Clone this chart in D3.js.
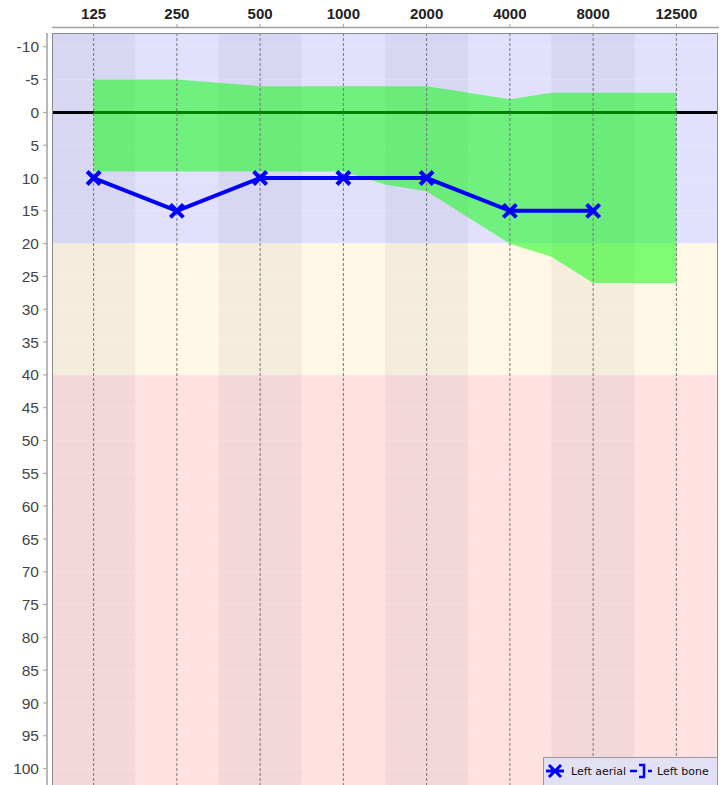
<!DOCTYPE html>
<html>
<head>
<meta charset="utf-8">
<script src="https://cdn.jsdelivr.net/npm/d3@7"></script>
<style>
  body { margin: 0; background: #fff; }
  svg { display: block; }
</style>
</head>
<body>
<svg id="chart" width="728" height="785"></svg>
<script>
// Frequencies (Hz) shown on the top axis
var FREQ_LABELS = ["125", "250", "500", "1000", "2000", "4000", "8000", "12500"];
var FREQS = [125, 250, 500, 1000, 2000, 4000, 8000, 12500];

// dB tick labels on the left axis
var DB_TICKS = [-10, -5, 0, 5, 10, 15, 20, 25, 30, 35, 40, 45, 50, 55, 60, 65, 70, 75, 80, 85, 90, 95, 100];

// Hearing zones (upper limit in dB) and their colours
var ZONE_LIMITS = [20, 40, 200];
var ZONE_COLORS = ["#e1e1fe", "#fff8e6", "#ffe1e2"];

// Normal-range band (green)
var BAND_FREQS = [125, 250, 500, 1000, 1500, 2000, 4000, 6000, 8000, 12500];
var BAND_TOP = [-5, -5, -4, -4, -4, -4, -2, -3, -3, -3];
var BAND_BOTTOM = [9, 9, 9, 9, 11, 12, 20, 22, 26, 26];

// Left aerial series
var AERIAL_FREQS = [125, 250, 500, 1000, 2000, 4000, 8000];
var AERIAL_DB = [10, 15, 10, 10, 10, 15, 15];

var PLOT_LEFT = 52, PLOT_RIGHT = 718, PLOT_TOP = 33, PLOT_BOTTOM = 790;
var SERIES_COLOR = "#0000ff";

var svg = d3.select("#chart");

var xPoint = d3.scalePoint()
    .domain(FREQ_LABELS)
    .range([PLOT_LEFT, PLOT_RIGHT])
    .padding(0.5);
var step = xPoint.step();

// piecewise-linear frequency scale through the category positions
var xScale = d3.scaleLinear()
    .domain(FREQS)
    .range(FREQ_LABELS.map(d => xPoint(d)));

var yScale = d3.scaleLinear()
    .domain([-12.1, 102.5])
    .range([PLOT_TOP, 785]);

var clip = svg.append("clipPath").attr("id", "plot-clip")
    .append("rect")
    .attr("x", PLOT_LEFT).attr("y", PLOT_TOP)
    .attr("width", PLOT_RIGHT - PLOT_LEFT).attr("height", PLOT_BOTTOM - PLOT_TOP);

var plot = svg.append("g").attr("clip-path", "url(#plot-clip)");

// zone backgrounds
var prev = yScale.domain()[0];
for (var z = 0; z < ZONE_LIMITS.length; z++) {
    var y0 = yScale(prev), y1 = Math.min(yScale(ZONE_LIMITS[z]), PLOT_BOTTOM);
    plot.append("rect")
        .attr("x", PLOT_LEFT).attr("y", y0)
        .attr("width", PLOT_RIGHT - PLOT_LEFT).attr("height", y1 - y0)
        .attr("fill", ZONE_COLORS[z]);
    prev = ZONE_LIMITS[z];
}

// alternating darker column stripes
plot.selectAll(".stripe")
    .data(FREQ_LABELS.filter((d, i) => i % 2 == 0))
    .enter()
    .append("rect")
    .attr("class", "stripe")
    .attr("x", d => xPoint(d) - step / 2)
    .attr("y", PLOT_TOP)
    .attr("width", step)
    .attr("height", PLOT_BOTTOM - PLOT_TOP)
    .attr("fill", "#000")
    .attr("opacity", 0.045);

// faint horizontal gridlines
plot.selectAll(".hgrid")
    .data(DB_TICKS)
    .enter()
    .append("line")
    .attr("class", "hgrid")
    .attr("x1", PLOT_LEFT).attr("x2", PLOT_RIGHT)
    .attr("y1", d => yScale(d)).attr("y2", d => yScale(d))
    .attr("stroke", "#fff")
    .attr("stroke-opacity", 0.35)
    .attr("stroke-dasharray", "2,2");

// zero line
plot.append("line")
    .attr("x1", PLOT_LEFT).attr("x2", PLOT_RIGHT)
    .attr("y1", yScale(0)).attr("y2", yScale(0))
    .attr("stroke", "#000")
    .attr("stroke-width", 3);

// normal band
var bandData = BAND_FREQS.map((f, i) => ({ f: f, top: BAND_TOP[i], bottom: BAND_BOTTOM[i] }));
var area = d3.area()
    .x(d => xScale(d.f))
    .y0(d => yScale(d.bottom))
    .y1(d => yScale(d.top));
plot.append("path")
    .datum(bandData)
    .attr("d", area)
    .attr("fill", "rgb(0,255,0)")
    .attr("fill-opacity", 0.5);

// vertical dashed gridlines
plot.selectAll(".vgrid")
    .data(FREQ_LABELS)
    .enter()
    .append("line")
    .attr("class", "vgrid")
    .attr("x1", d => xPoint(d)).attr("x2", d => xPoint(d))
    .attr("y1", PLOT_TOP).attr("y2", PLOT_BOTTOM)
    .attr("stroke", "#777")
    .attr("stroke-width", 1)
    .attr("stroke-dasharray", "3,2");

// aerial series line
var aerialData = AERIAL_FREQS.map((f, i) => ({ f: f, db: AERIAL_DB[i] }));
plot.append("path")
    .datum(aerialData)
    .attr("d", d3.line().x(d => xScale(d.f)).y(d => yScale(d.db)))
    .attr("fill", "none")
    .attr("stroke", SERIES_COLOR)
    .attr("stroke-width", 4);

var MK = 6.5;
var markers = plot.selectAll(".marker")
    .data(aerialData)
    .enter()
    .append("path")
    .attr("class", "marker")
    .attr("d", d => {
        var cx = xScale(d.f), cy = yScale(d.db);
        return "M" + (cx - MK) + "," + (cy - MK) + "L" + (cx + MK) + "," + (cy + MK) +
               "M" + (cx - MK) + "," + (cy + MK) + "L" + (cx + MK) + "," + (cy - MK);
    })
    .attr("stroke", SERIES_COLOR)
    .attr("stroke-width", 4)
    .attr("fill", "none");

// plot border
svg.append("rect")
    .attr("x", PLOT_LEFT + 0.5).attr("y", PLOT_TOP + 0.5)
    .attr("width", PLOT_RIGHT - PLOT_LEFT - 1).attr("height", PLOT_BOTTOM - PLOT_TOP)
    .attr("fill", "none")
    .attr("stroke", "#8a8a8a")
    .attr("stroke-width", 1);

// top axis
var topAxis = svg.append("g");
topAxis.append("line")
    .attr("x1", PLOT_LEFT).attr("x2", PLOT_RIGHT + 1)
    .attr("y1", 27.5).attr("y2", 27.5)
    .attr("stroke", "#a0a0a0").attr("stroke-width", 1.5);
topAxis.selectAll(".xtick")
    .data(FREQ_LABELS)
    .enter()
    .append("line")
    .attr("x1", d => xPoint(d)).attr("x2", d => xPoint(d))
    .attr("y1", 24).attr("y2", 27.5)
    .attr("stroke", "#a0a0a0");
topAxis.selectAll(".xlabel")
    .data(FREQ_LABELS)
    .enter()
    .append("text")
    .attr("x", d => xPoint(d))
    .attr("y", 18.5)
    .attr("text-anchor", "middle")
    .style("font-family", "'Liberation Sans', Arial, sans-serif")
    .style("font-weight", "bold")
    .style("font-size", "15px")
    .style("fill", "#222")
    .text(d => d);

// left axis
var leftAxis = svg.append("g");
leftAxis.append("line")
    .attr("x1", 47).attr("x2", 47)
    .attr("y1", PLOT_TOP).attr("y2", PLOT_BOTTOM)
    .attr("stroke", "#a0a0a0").attr("stroke-width", 1.5);
leftAxis.selectAll(".ytick")
    .data(DB_TICKS)
    .enter()
    .append("line")
    .attr("x1", 43).attr("x2", 47)
    .attr("y1", d => yScale(d)).attr("y2", d => yScale(d))
    .attr("stroke", "#a0a0a0");
leftAxis.selectAll(".ylabel")
    .data(DB_TICKS)
    .enter()
    .append("text")
    .attr("x", 39)
    .attr("y", d => yScale(d))
    .attr("dy", "0.36em")
    .attr("text-anchor", "end")
    .style("font-family", "'Liberation Sans', Arial, sans-serif")
    .style("font-size", "15.5px")
    .style("fill", "#444")
    .text(d => d);

// legend
var legend = svg.append("g");
legend.append("rect")
    .attr("x", 543.5).attr("y", 757.5)
    .attr("width", PLOT_RIGHT - 544).attr("height", 40)
    .attr("fill", "#e2e0f4")
    .attr("stroke", "#9a9a9a");
var lx = 555, ly = 771;
legend.append("path")
    .attr("d", "M" + (lx - 9) + "," + ly + "L" + (lx + 9) + "," + ly +
               "M" + (lx - 6) + "," + (ly - 6) + "L" + (lx + 6) + "," + (ly + 6) +
               "M" + (lx - 6) + "," + (ly + 6) + "L" + (lx + 6) + "," + (ly - 6))
    .attr("stroke", SERIES_COLOR).attr("stroke-width", 3).attr("fill", "none");
legend.append("text")
    .attr("x", 571).attr("y", ly + 4)
    .style("font-family", "'DejaVu Sans', sans-serif")
    .style("font-size", "11px")
    .style("fill", "#111")
    .text("Left aerial");
var bx = 644;
legend.append("path")
    .attr("d", "M" + (bx - 14) + "," + ly + "L" + (bx - 7) + "," + ly +
               "M" + (bx - 5) + "," + (ly - 6) + "L" + bx + "," + (ly - 6) + "L" + bx + "," + (ly + 6) + "L" + (bx - 5) + "," + (ly + 6) +
               "M" + (bx + 4) + "," + ly + "L" + (bx + 8) + "," + ly)
    .attr("stroke", SERIES_COLOR).attr("stroke-width", 2.5).attr("fill", "none");
legend.append("text")
    .attr("x", 657).attr("y", ly + 4)
    .style("font-family", "'DejaVu Sans', sans-serif")
    .style("font-size", "11px")
    .style("fill", "#111")
    .text("Left bone");
</script>
</body>
</html>
